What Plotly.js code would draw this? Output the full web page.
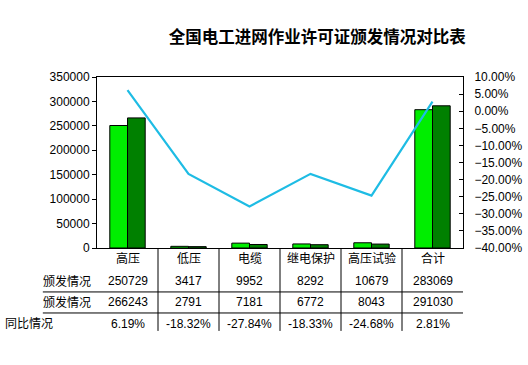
<!DOCTYPE html>
<html>
<head>
<meta charset="utf-8">
<script src="https://cdn.plot.ly/plotly-3.0.1.min.js"></script>
<style>html,body{margin:0;padding:0;background:#fff;}#chart{width:528px;height:365px;}</style>
</head>
<body>
<div id="chart"></div>
<script>
const categories = ["高压", "低压", "电缆", "继电保护", "高压试验", "合计"];
const seriesNames = ["颁发情况", "颁发情况"];
const issued1 = [250729, 3417, 9952, 8292, 10679, 283069];
const issued2 = [266243, 2791, 7181, 6772, 8043, 291030];
const yoyPct = [6.19, -18.32, -27.84, -18.33, -24.68, 2.81];
const yoyLabel = "同比情况";
const titleText = "全国电工进网作业许可证颁发情况对比表";

const F = "Liberation Sans, Arial, Noto Sans CJK SC, sans-serif";
const FC = "Liberation Sans, Arial, Noto Sans CJK SC, sans-serif";

const traces = [
  {type: "bar", x: categories, y: issued1, name: seriesNames[0],
   marker: {color: "#00EE00", line: {color: "#000", width: 1}}},
  {type: "bar", x: categories, y: issued2, name: seriesNames[1],
   marker: {color: "#008000", line: {color: "#000", width: 1}}},
  {type: "scatter", mode: "lines", x: categories, y: yoyPct, yaxis: "y2", name: yoyLabel,
   line: {color: "#1EBCE4", width: 2.2}}
];

const rowY = [-0.193, -0.316, -0.444];
const annotations = [];
categories.forEach((c, i) => {
  annotations.push({x: c, xref: "x", y: -0.064, yref: "paper", text: c, showarrow: false,
    font: {family: FC, size: 12, color: "#000"}, yanchor: "middle"});
  annotations.push({x: c, xref: "x", y: rowY[0], yref: "paper", text: String(issued1[i]), showarrow: false,
    font: {family: F, size: 12, color: "#000"}, yanchor: "middle"});
  annotations.push({x: c, xref: "x", y: rowY[1], yref: "paper", text: String(issued2[i]), showarrow: false,
    font: {family: F, size: 12, color: "#000"}, yanchor: "middle"});
  annotations.push({x: c, xref: "x", y: rowY[2], yref: "paper", text: yoyPct[i].toFixed(2) + "%", showarrow: false,
    font: {family: F, size: 12, color: "#000"}, yanchor: "middle"});
});
annotations.push({x: -0.011, xref: "paper", y: rowY[0], yref: "paper", text: seriesNames[0], showarrow: false,
  xanchor: "right", yanchor: "middle", font: {family: FC, size: 12, color: "#000"}});
annotations.push({x: -0.011, xref: "paper", y: rowY[1], yref: "paper", text: seriesNames[1], showarrow: false,
  xanchor: "right", yanchor: "middle", font: {family: FC, size: 12, color: "#000"}});
annotations.push({x: -0.257, xref: "paper", y: rowY[2], yref: "paper", text: yoyLabel, showarrow: false,
  xanchor: "left", yanchor: "middle", font: {family: FC, size: 12, color: "#000"}});

const shapes = [];
for (let i = 0; i < categories.length - 1; i++) {
  shapes.push({type: "line", xref: "x", yref: "paper", x0: i + 0.5, x1: i + 0.5, y0: 0, y1: -0.485,
    line: {color: "#000", width: 1}});
}
[-0.257, -0.380].forEach(y => {
  shapes.push({type: "line", xref: "paper", yref: "paper", x0: -0.148, x1: 1, y0: y, y1: y,
    line: {color: "#000", width: 1}});
});

const layout = {
  width: 528, height: 365,
  margin: {l: 97, r: 65, t: 77, b: 117},
  paper_bgcolor: "#fff", plot_bgcolor: "#fff",
  showlegend: false,
  barmode: "group", bargap: 0.42, bargroupgap: 0,
  title: {text: "<b>" + titleText + "</b>", x: 0.602, xanchor: "center", xref: "paper",
    y: 0.898, yref: "container", yanchor: "middle",
    font: {family: "Noto Sans CJK SC, sans-serif", size: 16.5, color: "#000"}},
  xaxis: {showticklabels: false, ticks: "", showline: true, linecolor: "#000", linewidth: 1,
    mirror: true, showgrid: false, zeroline: false, fixedrange: true},
  yaxis: {range: [0, 350000], dtick: 50000, tickformat: "d", showline: true, linecolor: "#000",
    linewidth: 1, ticks: "outside", ticklen: 4, tickcolor: "#000", showgrid: false, zeroline: false,
    tickfont: {family: F, size: 12, color: "#000"}},
  yaxis2: {overlaying: "y", side: "right", range: [-40, 10], dtick: 5, tickformat: ".2f", ticksuffix: "%",
    showline: true, linecolor: "#000", linewidth: 1, ticks: "inside", ticklen: 4, tickcolor: "#000",
    showgrid: false, zeroline: false, ticklabelstandoff: 8,
    tickfont: {family: F, size: 12, color: "#000"}},
  annotations: annotations,
  shapes: shapes
};

Plotly.newPlot("chart", traces, layout, {displayModeBar: false, staticPlot: true});
</script>
</body>
</html>
